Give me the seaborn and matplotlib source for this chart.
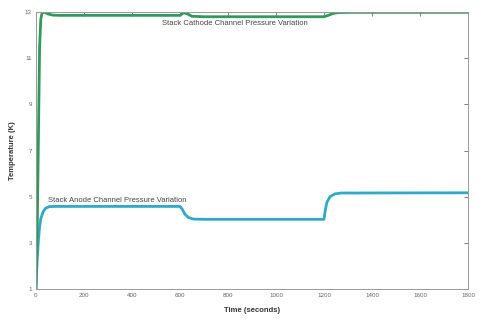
import pandas as pd
import matplotlib
matplotlib.use("Agg")
import matplotlib.pyplot as plt
import seaborn as sns

# values
cathode_t = [0, 5, 10, 15, 20, 25, 35, 50, 70, 100, 600, 615, 630, 650, 700,
             1200, 1215, 1240, 1260, 1300, 1800]
cathode_p = [1.0, 3.5, 7.5, 11.5, 12.7, 12.95, 13.0, 12.92, 12.87, 12.86, 12.86,
             12.97, 12.93, 12.82, 12.8, 12.8, 12.85, 12.95, 12.98, 12.99, 12.99]

anode_t = [0, 5, 10, 15, 20, 30, 40, 55, 80, 600, 610, 620, 635, 655, 700,
           1200, 1205, 1212, 1225, 1245, 1270, 1800]
anode_p = [1.0, 2.3, 3.1, 3.7, 4.05, 4.35, 4.5, 4.57, 4.58, 4.58, 4.45, 4.25,
           4.1, 4.03, 4.02, 4.02, 4.4, 4.75, 5.0, 5.12, 5.16, 5.17]

x_ticks = list(range(0, 1801, 200))
y_ticks = [1, 3, 5, 7, 9, 11, 13]

cathode = pd.DataFrame({"t": cathode_t, "p": cathode_p})
anode = pd.DataFrame({"t": anode_t, "p": anode_p})

sns.set_style("white")
plt.rcParams['font.family'] = ['Liberation Sans', 'DejaVu Sans']

fig = plt.figure(figsize=(4.8, 3.19), dpi=100)
ax = fig.add_axes([0.075, 0.094, 0.9, 0.868])

sns.lineplot(data=anode, x="t", y="p", color="#2ea9c9", linewidth=2.0, ax=ax)
sns.lineplot(data=cathode, x="t", y="p", color="#2e9a5c", linewidth=2.0, ax=ax)

ax.set_xlim(0, 1800)
ax.set_ylim(1, 13)
ax.set_xticks(x_ticks)
ax.set_yticks(y_ticks)
ax.tick_params(direction="in", length=3, width=0.6, labelsize=4.5,
               colors="#666666", top=True, right=True, pad=3)
for s in ax.spines.values():
    s.set_color("#999999")
    s.set_linewidth(0.7)

ax.set_xlabel("Time (seconds)", fontsize=5.5, fontweight="bold", color="#333333", labelpad=6)
ax.set_ylabel("Temperature (K)", fontsize=5.5, fontweight="bold", color="#333333", labelpad=6)

ax.text(829, 12.5, "Stack Cathode Channel Pressure Variation", fontsize=5.5,
        color="#444444", ha="center", va="center")
ax.text(340, 4.85, "Stack Anode Channel Pressure Variation", fontsize=5.5,
        color="#444444", ha="center", va="center")

fig.savefig("out.png", dpi=100)
